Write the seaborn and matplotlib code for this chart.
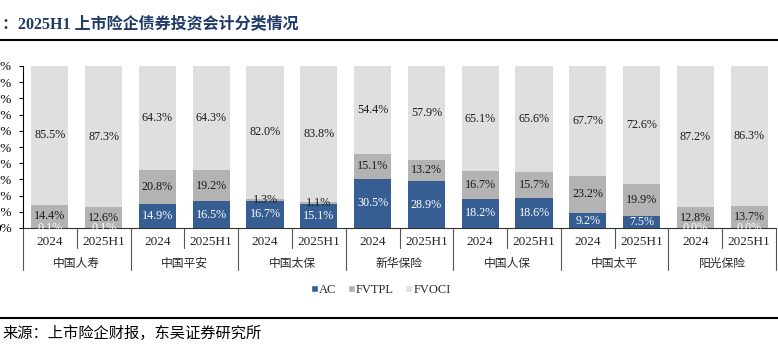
import matplotlib
matplotlib.use("Agg")
import matplotlib.pyplot as plt
from matplotlib.lines import Line2D
from matplotlib.patches import Patch
import matplotlib.transforms as mtrans
import seaborn as sns
import pandas as pd
import numpy as np

companies = ["中国人寿", "中国平安", "中国太保", "新华保险", "中国人保", "中国太平", "阳光保险"]
periods = ["2024", "2025H1"]
ac =    [0.1, 0.1, 14.9, 16.5, 16.7, 15.1, 30.5, 28.9, 18.2, 18.6, 9.2, 7.5, 0.0, 0.0]
fvtpl = [14.4, 12.6, 20.8, 19.2, 1.3, 1.1, 15.1, 13.2, 16.7, 15.7, 23.2, 19.9, 12.8, 13.7]
fvoci = [85.5, 87.3, 64.3, 64.3, 82.0, 83.8, 54.4, 57.9, 65.1, 65.6, 67.7, 72.6, 87.2, 86.3]
y_ticks = list(range(0, 101, 10))

C_AC = "#365E92"
C_TPL = "#B3B3B3"
C_OCI = "#DFDFDF"

sns.set_style("white")
SERIF = ["Liberation Serif", "Noto Sans CJK SC"]
plt.rcParams["font.family"] = SERIF

slots = [f"{c}|{p}" for c in companies for p in periods]
df = pd.DataFrame({"slot": slots, "AC": ac, "FVTPL": fvtpl, "FVOCI": fvoci})
df["c2"] = df["AC"] + df["FVTPL"]
df["c3"] = df["c2"] + df["FVOCI"]

W, H = 778, 352
fig = plt.figure(figsize=(W / 100, H / 100), dpi=100)
ax = fig.add_axes([23 / W, 1 - 228 / H, (776 - 23) / W, (228 - 66) / H])

bw = 0.69
sns.barplot(data=df, x="slot", y="c3", order=slots, color=C_OCI, saturation=1,
            width=bw, ax=ax, edgecolor="none")
sns.barplot(data=df, x="slot", y="c2", order=slots, color=C_TPL, saturation=1,
            width=bw, ax=ax, edgecolor="none")
sns.barplot(data=df, x="slot", y="AC", order=slots, color=C_AC, saturation=1,
            width=bw, ax=ax, edgecolor="none")

ax.set_xlim(-0.5, len(slots) - 0.5)
ax.set_ylim(0, 100)
ax.set_yticks(y_ticks)
ax.set_yticklabels([f"{t}%" for t in y_ticks], fontsize=9.5)
ax.tick_params(axis="y", direction="out", length=3, width=0.8, pad=5, left=True, colors="black")
ax.set_xticks(range(len(slots)))
ax.set_xticklabels([p for c in companies for p in periods], fontsize=9.5)
ax.tick_params(axis="x", length=0, pad=6)
ax.set_xlabel("")
ax.set_ylabel("")
for s in ["top", "right"]:
    ax.spines[s].set_visible(False)
ax.spines["left"].set_color("black")
ax.spines["left"].set_linewidth(0.8)
ax.spines["bottom"].set_color("#333333")
ax.spines["bottom"].set_linewidth(0.8)

# data labels
LFS = 8.7
for i, r in df.iterrows():
    ax.text(i, r["AC"] / 2, f"{r['AC']:.1f}%", ha="center", va="center",
            fontsize=LFS, color="white")
    ax.text(i, r["AC"] + r["FVTPL"] / 2, f"{r['FVTPL']:.1f}%", ha="center", va="center",
            fontsize=LFS, color="#1a1a1a")
    ax.text(i, r["c2"] + r["FVOCI"] / 2, f"{r['FVOCI']:.1f}%", ha="center", va="center",
            fontsize=LFS, color="#1a1a1a")

# multi-level category dividers and company labels
tr = mtrans.blended_transform_factory(ax.transData, ax.transAxes)
hpx = 228 - 66
for k in range(len(companies) + 1):
    x = -0.5 + 2 * k
    ax.plot([x, x], [0, -(270 - 228) / hpx], transform=tr, color="#555555",
            lw=0.8, clip_on=False)
for k in range(len(companies)):
    x = 0.5 + 2 * k
    ax.plot([x, x], [0, -(248 - 228) / hpx], transform=tr, color="#555555",
            lw=0.8, clip_on=False)
    ax.text(2 * k + 0.5, -(263 - 228) / hpx, companies[k], transform=tr,
            ha="center", va="center", fontsize=8.5, family=["Noto Sans CJK SC"])

# legend
handles = [Patch(facecolor=C_AC), Patch(facecolor=C_TPL), Patch(facecolor=C_OCI)]
fig.legend(handles, ["AC", "FVTPL", "FVOCI"], loc="center",
           bbox_to_anchor=(381 / W, 1 - 290 / H), ncol=3, frameon=False,
           fontsize=9, handlelength=0.55, handleheight=0.55, handletextpad=0.1,
           columnspacing=0.9, borderaxespad=0)

# title and rules
fig.text(2 / W, 1 - 24 / H, "：2025H1 上市险企债券投资会计分类情况", ha="left", va="center",
         fontsize=11.5, fontweight="bold", color="#1F3A66", family=SERIF)
fig.add_artist(Line2D([0, 1], [1 - 40 / H, 1 - 40 / H], transform=fig.transFigure,
                      color="black", lw=1.5))
fig.add_artist(Line2D([0, 1], [1 - 318 / H, 1 - 318 / H], transform=fig.transFigure,
                      color="black", lw=1.5))
fig.text(2 / W, 1 - 333 / H, "来源：上市险企财报，东吴证券研究所", ha="left", va="center",
         fontsize=11, color="black", family=["Noto Sans CJK SC"])

fig.savefig("out.png", dpi=100)
